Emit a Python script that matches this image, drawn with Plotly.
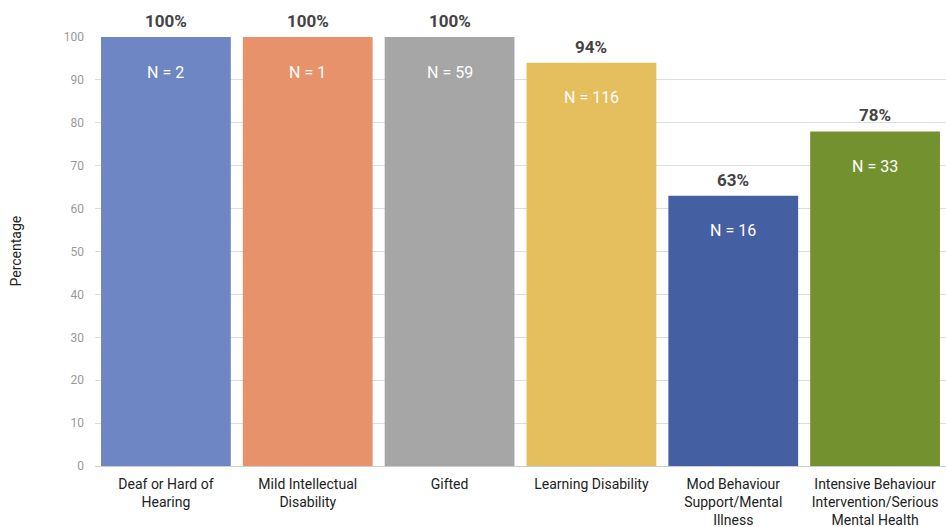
import plotly.graph_objects as go

categories = [
    "Deaf or Hard of<br>Hearing",
    "Mild Intellectual<br>Disability",
    "Gifted",
    "Learning Disability",
    "Mod Behaviour<br>Support/Mental<br>Illness",
    "Intensive Behaviour<br>Intervention/Serious<br>Mental Health",
]
percentages = [100, 100, 100, 94, 63, 78]
counts = [2, 1, 59, 116, 16, 33]
colors = ["#6E86C4", "#E8926C", "#A6A6A6", "#E5BE5E", "#445FA2", "#73922F"]

fig = go.Figure(
    go.Bar(
        x=categories,
        y=percentages,
        marker=dict(color=colors, line=dict(width=0)),
        hoverinfo="skip",
    )
)

annotations = []
for cat, pct, n in zip(categories, percentages, counts):
    # bold percentage above each bar
    annotations.append(dict(
        x=cat, y=pct, xref="x", yref="y", text=f"<b>{pct}%</b>",
        showarrow=False, yanchor="bottom", yshift=4,
        font=dict(size=17, color="#444444", family="Roboto"),
    ))
    # sample size inside the top of each bar
    annotations.append(dict(
        x=cat, y=pct, xref="x", yref="y", text=f"N = {n}",
        showarrow=False, yanchor="middle", yshift=-35,
        font=dict(size=16, color="#FFFFFF", family="Roboto"),
    ))
annotations.append(dict(
    x=-0.094, y=0.5, xref="paper", yref="paper", xanchor="center", yanchor="middle",
    text="Percentage", textangle=-90, showarrow=False,
    font=dict(size=14, color="#222222", family="Roboto"),
))

fig.update_layout(
    width=946, height=527,
    margin=dict(l=95, r=0, t=37, b=61),
    paper_bgcolor="white", plot_bgcolor="white",
    bargap=0.085,
    showlegend=False,
    font=dict(family="Roboto", color="#222222"),
    annotations=annotations,
    xaxis=dict(
        tickfont=dict(size=14, color="#222222"),
        showgrid=False, showline=False, ticks="",
        ticklabelstandoff=8,
    ),
    yaxis=dict(
        range=[0, 100], dtick=10, tick0=0,
        showgrid=True, gridcolor="#DDDDDD", gridwidth=1,
        zeroline=True, zerolinecolor="#CCCCCC", zerolinewidth=1,
        tickfont=dict(size=12, color="#999999"),
        ticks="", ticklabelstandoff=10,
    ),
)

fig.write_html("out.html")
